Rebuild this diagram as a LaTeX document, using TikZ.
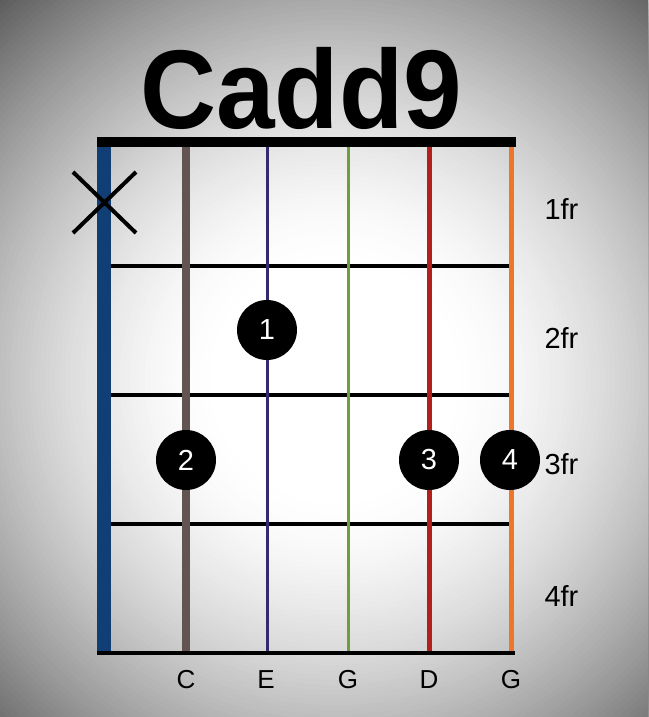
\documentclass[tikz,border=0pt]{standalone}
\usepackage{fontspec}
\setmainfont{Liberation Sans}
\usepackage{tikz}
\usetikzlibrary{positioning}
\definecolor{stringblue}{RGB}{18,62,118}
\definecolor{stringbrown}{RGB}{98,84,80}
\definecolor{stringpurple}{RGB}{52,42,108}
\definecolor{stringgreen}{RGB}{108,158,62}
\definecolor{stringred}{RGB}{178,32,30}
\definecolor{stringorange}{RGB}{236,118,42}
\tikzset{
 fret/.style={line width=4pt},
 finger/.style={circle,fill=black,minimum size=60pt,inner sep=0pt,
  text=white,font=\fontsize{29}{30}\selectfont},
 frlabel/.style={font=\fontsize{29}{30}\selectfont,anchor=west},
 notelabel/.style={font=\fontsize{26}{28}\selectfont}
}

\begin{document}
\begin{tikzpicture}[x=1pt,y=-1pt,line cap=butt,line join=round]
 \useasboundingbox (0,0) rectangle (648,717);
 % vignette background
 \fill[black!64] (0,0) rectangle (648,717);
 \begin{scope}
  \clip (0,0) rectangle (648,717);
  \foreach \k in {0,...,77}{
   \pgfmathsetmacro\rad{510-5*\k}
   \pgfmathsetmacro\shadeval{64*pow(max(\rad-120,0)/390,1.6)}
   \fill[black!\shadeval] (335,380) circle (\rad);
  }
 \end{scope}
 % title
 \node[font=\bfseries\fontsize{112}{112}\selectfont,anchor=base,xscale=0.94]
  (title) at (301,128) {Cadd9};
 % frets
 \draw[fret] (111,266)--(511,266);
 \draw[fret] (111,395)--(511,395);
 \draw[fret] (111,524)--(511,524);
 % strings
 \draw[stringblue,line width=14pt] (104,147)--(104,651);
 \draw[stringbrown,line width=8pt] (186,147)--(186,651);
 \draw[stringpurple,line width=3.5pt] (267.5,147)--(267.5,651);
 \draw[stringgreen,line width=3pt] (348.5,147)--(348.5,651);
 \draw[stringred,line width=4.5pt] (429.5,147)--(429.5,651);
 \draw[stringorange,line width=5pt] (511.5,147)--(511.5,651);
 % nut and end line
 \draw[line width=10pt] (97,142)--(516,142);
 \draw[line width=4pt] (97,653)--(515,653);
 % muted string
 \draw[line width=4pt] (73,172)--(136,233);
 \draw[line width=4pt] (136,172)--(73,233);
 % fingers
 \node[finger] (finger1) at (267,330) {1};
 \node[finger] (finger2) at (186,460) {2};
 \node[finger] (finger3) at (429,460) {3};
 \node[finger] (finger4) at (510,460) {4};
 % fret numbers
 \node[frlabel] (fr1) at (541,209) {1fr};
 \node[frlabel] (fr2) at (541,338) {2fr};
 \node[frlabel] (fr3) at (541,464) {3fr};
 \node[frlabel] (fr4) at (541,596) {4fr};
 % notes
 \node[notelabel] (noteC) at (186,680) {C};
 \node[notelabel] (noteE) at (266,680) {E};
 \node[notelabel] (noteG) at (348,680) {G};
 \node[notelabel] (noteD) at (429,680) {D};
 \node[notelabel] (noteGhi) at (511,680) {G};
\end{tikzpicture}
\end{document}
